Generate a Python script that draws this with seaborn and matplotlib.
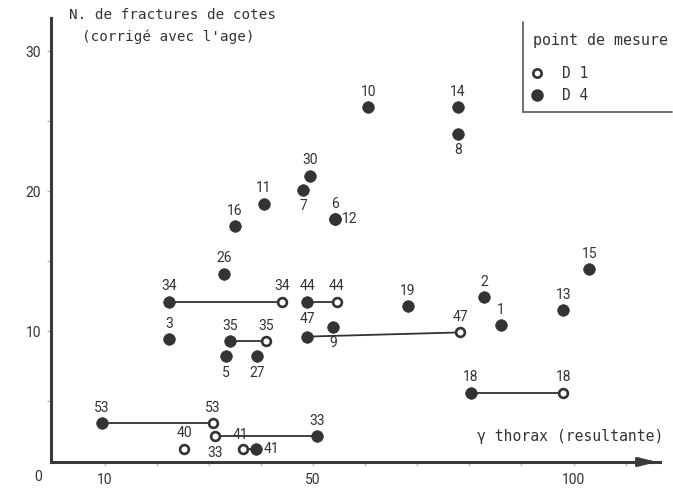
import matplotlib
matplotlib.use("Agg")
import matplotlib.pyplot as plt
from matplotlib.lines import Line2D
import seaborn as sns
import pandas as pd

# ---- data -------------------------------------------------------------
d4_ids = ["1", "2", "3", "5", "6", "7", "8", "9", "10", "11", "12", "13", "14",
          "15", "16", "18", "19", "26", "27", "30", "33", "34", "35", "41",
          "44", "47", "53"]
d4_x = [86.1, 82.8, 22.4, 33.3, 54.2, 48.1, 77.8, 53.9, 60.6, 40.6, 54.2, 98.0,
        77.8, 103.0, 35.0, 80.3, 68.2, 32.9, 39.2, 49.4, 50.8, 22.4, 34.0, 39.1,
        48.9, 48.9, 9.5]
d4_y = [10.4, 12.4, 9.4, 8.2, 18.0, 20.1, 24.1, 10.3, 26.0, 19.1, 18.0, 11.5,
        26.0, 14.4, 17.5, 5.6, 11.8, 14.1, 8.2, 21.1, 2.5, 12.1, 9.3, 1.6,
        12.1, 9.6, 3.4]

d1_ids = ["18", "33", "34", "35", "40", "41", "44", "47", "53"]
d1_x = [98.0, 31.2, 44.0, 41.0, 25.3, 36.6, 54.6, 78.2, 30.8]
d1_y = [5.6, 2.5, 12.1, 9.3, 1.6, 1.6, 12.1, 9.9, 3.4]

x_ticks = [10, 50, 100]
y_ticks = [10, 20, 30]

# label placement (style only)
d4_side = {"5": "below", "7": "below", "8": "below", "9": "below",
           "27": "below", "12": "right", "41": "right", "47": "high"}
d1_side = {"33": "below", "41": "aboveleft"}

# ---- frames -------------------------------------------------------------
df4 = pd.DataFrame({"id": d4_ids, "x": d4_x, "y": d4_y, "point": "D 4"})
df1 = pd.DataFrame({"id": d1_ids, "x": d1_x, "y": d1_y, "point": "D 1"})
both = pd.concat([df1, df4], ignore_index=True)
pairs = both[both["id"].isin(set(d1_ids) & set(d4_ids))]

sns.set_theme(style="white")
plt.rcParams["font.family"] = ["Roboto", "DejaVu Sans"]
mono = ["DejaVu Sans Mono", "DejaVu Sans"]

ink = "#333333"
fig = plt.figure(figsize=(6.73, 4.91), dpi=100)
ax = fig.add_axes([0.0758, 0.0591, 0.905, 0.904])

sns.lineplot(data=pairs, x="x", y="y", units="id", estimator=None, sort=False,
             color=ink, lw=1.3, legend=False, ax=ax, zorder=1)
sns.scatterplot(data=df1, x="x", y="y", marker="o", s=40, facecolor="white",
                edgecolor=ink, linewidth=1.9, legend=False, ax=ax, zorder=2)
sns.scatterplot(data=df4, x="x", y="y", marker="o", s=70, color=ink,
                edgecolor=ink, linewidth=0.5, legend=False, ax=ax, zorder=3)

offsets = {"above": ((0, 11), "center", "center"),
           "high": ((0, 12.5), "center", "center"),
           "below": ((0, -12), "center", "center"),
           "right": ((5, 0), "left", "center"),
           "aboveleft": ((-2, 10), "center", "center")}


def put_labels(ids, xs, ys, sides):
    for i, xv, yv in zip(ids, xs, ys):
        (dx, dy), ha, va = offsets[sides.get(i, "above")]
        ax.annotate(i, (xv, yv), xytext=(dx, dy), textcoords="offset points",
                    ha=ha, va=va, fontsize=10, color=ink, zorder=4)


put_labels(d4_ids, d4_x, d4_y, d4_side)
put_labels(d1_ids, d1_x, d1_y, d1_side)

ax.set_xlim(-0.27, 116.6)
ax.set_ylim(0.64, 32.36)
ax.set_xticks(x_ticks)
ax.set_xticklabels([str(v) for v in x_ticks])
ax.set_yticks(y_ticks)
ax.set_yticklabels([str(v) for v in y_ticks])
ax.set_xticks(range(10, 120, 10), minor=True)
ax.set_yticks(range(5, 35, 5), minor=True)
ax.tick_params(axis="both", which="both", length=3, width=1, color="#bbbbbb",
               labelsize=10, labelcolor=ink, bottom=True, left=True)
ax.tick_params(axis="x", pad=5)
ax.tick_params(axis="y", pad=4)
ax.set_xlabel("")
ax.set_ylabel("")
sns.despine(ax=ax)
for side in ("left", "bottom"):
    ax.spines[side].set_linewidth(2.2)
    ax.spines[side].set_color("#3a3a3a")
ax.annotate("", xy=(1.0, 0), xytext=(0.96, 0), xycoords="axes fraction",
            arrowprops=dict(arrowstyle="-|>,head_length=0.9,head_width=0.22",
                            color="#3a3a3a", lw=2.0), annotation_clip=False)
ax.annotate("0", (0, 0), xycoords=("data", "axes fraction"),
            xytext=(-10, -11), textcoords="offset points",
            ha="center", va="center", fontsize=10, color=ink,
            annotation_clip=False)

# axis titles
fig.text(69 / 673, 1 - 15 / 491, "N. de fractures de cotes", ha="left",
         va="center", fontsize=10.3, color=ink, family=mono)
fig.text(82 / 673, 1 - 37 / 491, "(corrigé avec l'age)", ha="left",
         va="center", fontsize=10.3, color=ink, family=mono)
fig.text(663 / 673, 1 - 437 / 491, "γ thorax (resultante)", ha="right",
         va="center", fontsize=10.6, color=ink, family=mono)

# legend
fig.text(533 / 673, 1 - 41 / 491, "point de mesure", ha="left", va="center",
         fontsize=10.8, color=ink, family=mono)
handles = [Line2D([], [], ls="", marker="o", ms=6.0, mfc="white", mec=ink,
                  mew=1.9),
           Line2D([], [], ls="", marker="o", ms=8.0, mfc=ink, mec=ink)]
leg = fig.legend(handles, ["D 1", "D 4"],
                 loc="upper left", bbox_to_anchor=(531 / 673, 1 - 66 / 491),
                 frameon=False, prop={"family": mono, "size": 10.5},
                 handletextpad=1.3, labelspacing=0.5, alignment="left",
                 handlelength=0.8, borderaxespad=0, borderpad=0)
for t in leg.get_texts():
    t.set_color(ink)
fig.add_artist(Line2D([523 / 673, 523 / 673], [1 - 22 / 491, 1 - 112 / 491],
                      transform=fig.transFigure, color="#666666", lw=1.3))
fig.add_artist(Line2D([523 / 673, 672 / 673], [1 - 112 / 491, 1 - 112 / 491],
                      transform=fig.transFigure, color="#666666", lw=1.3))

fig.savefig("out.png", dpi=100)
